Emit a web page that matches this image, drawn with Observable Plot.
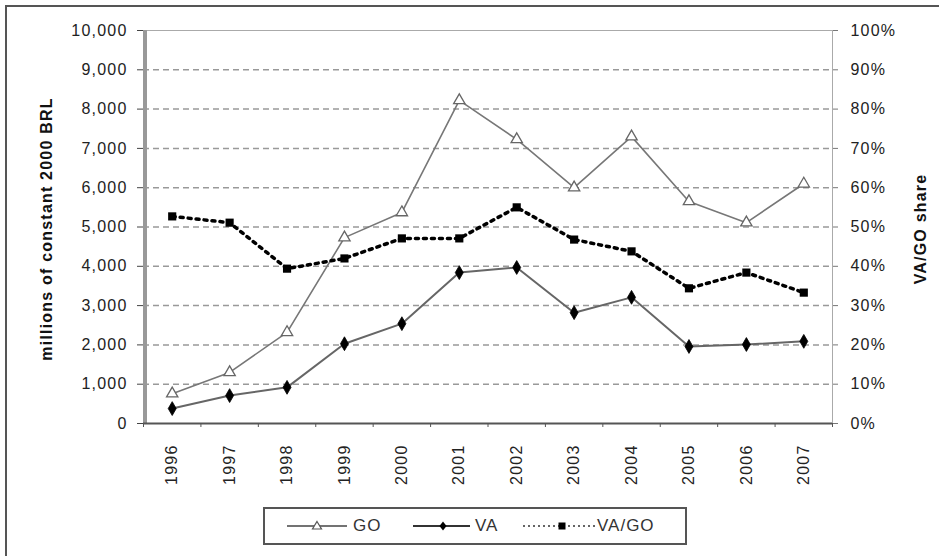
<!DOCTYPE html>
<html>
<head>
<meta charset="utf-8">
<script src="https://cdn.jsdelivr.net/npm/d3@7"></script>
<script src="https://cdn.jsdelivr.net/npm/@observablehq/plot@0.6"></script>
<style>
  body { margin: 0; background: #fff; }
  #wrap { position: relative; width: 939px; height: 556px; overflow: hidden; font-family: "Liberation Sans", Arial, sans-serif; }
  #frame { position: absolute; left: 5px; top: 5px; width: 940px; height: 560px; border-top: 2px solid #555; border-left: 2px solid #555; }
  #chart { position: absolute; left: 0; top: 0; }
  #legend { position: absolute; left: 263px; top: 507px; width: 420px; height: 34px; border: 2px solid #555; background: #fff; }
  .item { position: absolute; top: 0; height: 34px; display: flex; align-items: center; font-size: 17px; color: #333; letter-spacing: 1px; }
  .sw { position: absolute; top: 0; }
</style>
</head>
<body>
<div id="wrap">
  <div id="frame"></div>
  <div id="chart"></div>
  <div id="legend"></div>
</div>
<script>
const years = [1996, 1997, 1998, 1999, 2000, 2001, 2002, 2003, 2004, 2005, 2006, 2007];
const goValues = [760, 1300, 2320, 4730, 5370, 8220, 7230, 6000, 7300, 5650, 5110, 6100];
const vaValues = [380, 710, 920, 2030, 2540, 3840, 3970, 2820, 3210, 1960, 2010, 2090];
const shareValues = [52.7, 51.1, 39.4, 42.0, 47.1, 47.1, 55.0, 46.8, 43.8, 34.4, 38.4, 33.3];
const leftTicks = [0, 1000, 2000, 3000, 4000, 5000, 6000, 7000, 8000, 9000, 10000];
const gridTicks = [1000, 2000, 3000, 4000, 5000, 6000, 7000, 8000, 9000];
const leftTitle = "millions of constant 2000 BRL";
const rightTitle = "VA/GO share";
const seriesNames = ["GO", "VA", "VA/GO"];

const rows = years.map((y, i) => ({year: y, go: goValues[i], va: vaValues[i], share: shareValues[i]}));
const bounds = years.map(y => y - 0.5).concat([years[years.length - 1] + 0.5]);
const xDomain = [bounds[0], bounds[bounds.length - 1]];
const shareToY = d => d.share * 100;

const plot = Plot.plot({
  width: 939,
  height: 500,
  marginLeft: 143,
  marginRight: 107,
  marginTop: 30,
  marginBottom: 77,
  style: {fontFamily: "'Liberation Sans', Arial, sans-serif", fontSize: "16px", color: "#222", letterSpacing: "1.2px", background: "transparent"},
  x: {domain: xDomain},
  y: {domain: [0, 10000]},
  marks: [
    Plot.ruleY(gridTicks, {stroke: "#999", strokeWidth: 1.5, strokeDasharray: "6,4"}),
    Plot.ruleY([10000], {stroke: "#aaa", strokeWidth: 1}),
    Plot.ruleX([xDomain[1]], {stroke: "#aaa", strokeWidth: 1}),
    Plot.ruleX([xDomain[0]], {stroke: "#999", strokeWidth: 4, dx: 1.5}),
    Plot.ruleY([0], {stroke: "#555", strokeWidth: 2}),
    Plot.axisY({ticks: leftTicks, tickSize: 6, tickPadding: 10, tickFormat: d3.format(","), fontSize: 16, stroke: "#444", label: null}),
    Plot.axisY({anchor: "right", ticks: leftTicks, tickSize: 5, tickPadding: 13, tickFormat: d => (d / 100) + "%", fontSize: 16, stroke: "#777", label: null}),
    Plot.axisX({ticks: bounds, tickSize: 4, tickFormat: () => "", stroke: "#555", label: null}),
    Plot.axisX({ticks: years, tickSize: 0, tickPadding: 21, tickRotate: -90, tickFormat: d => String(d), fontSize: 16, label: null}),
    Plot.text([leftTitle], {frameAnchor: "left", textAnchor: "middle", rotate: -90, dx: -97, dy: 2, fontWeight: "bold", fontSize: 16, fill: "#111"}),
    Plot.text([rightTitle], {frameAnchor: "right", textAnchor: "middle", rotate: -90, dx: 88, dy: 2, fontWeight: "bold", fontSize: 16, fill: "#111"}),
    Plot.line(rows, {x: "year", y: "go", stroke: "#777", strokeWidth: 1.6}),
    Plot.line(rows, {x: "year", y: "va", stroke: "#666", strokeWidth: 2}),
    Plot.line(rows, {x: "year", y: shareToY, stroke: "#000", strokeWidth: 3.5, strokeDasharray: "3,5"}),
    Plot.dot(rows, {x: "year", y: "go", symbol: "triangle", r: 4.2, fill: "white", stroke: "#666", strokeWidth: 1.3}),
    Plot.dot(rows, {x: "year", y: "va", symbol: "diamond", r: 4.2, fill: "#000", stroke: "#000", strokeWidth: 0.8}),
    Plot.dot(rows, {x: "year", y: shareToY, symbol: "square", r: 4.6, fill: "#000"})
  ]
});
document.getElementById("chart").appendChild(plot);

// legend
const legend = document.getElementById("legend");
const legendLayout = [
  {name: seriesNames[0], x0: 22, x1: 82, mx: 52, tx: 88},
  {name: seriesNames[1], x0: 148, x1: 205, mx: 178, tx: 210},
  {name: seriesNames[2], x0: 258, x1: 330, mx: 297, tx: 332}
];
const swatches = [
  (L) => `<line x1="${L.x0}" x2="${L.x1}" y1="17" y2="17" stroke="#444" stroke-width="1.5"/><path d="M${L.mx},12.5 L${L.mx+4.5},20 L${L.mx-4.5},20 Z" fill="white" stroke="#555" stroke-width="1.2"/>`,
  (L) => `<line x1="${L.x0}" x2="${L.x1}" y1="17" y2="17" stroke="#333" stroke-width="1.8"/><path d="M${L.mx},12.5 L${L.mx+3.5},17 L${L.mx},21.5 L${L.mx-3.5},17 Z" fill="#000"/>`,
  (L) => `<line x1="${L.x0}" x2="${L.x1}" y1="17" y2="17" stroke="#333" stroke-width="1.5" stroke-dasharray="2,3"/><rect x="${L.mx-3.5}" y="13.5" width="7" height="7" fill="#000"/>`
];
let svg = `<svg class="sw" width="420" height="34">`;
legendLayout.forEach((L, i) => { svg += swatches[i](L); });
svg += `</svg>`;
let html = svg;
legendLayout.forEach(L => { html += `<div class="item" style="left:${L.tx}px">${L.name}</div>`; });
legend.innerHTML = html;
</script>
</body>
</html>
